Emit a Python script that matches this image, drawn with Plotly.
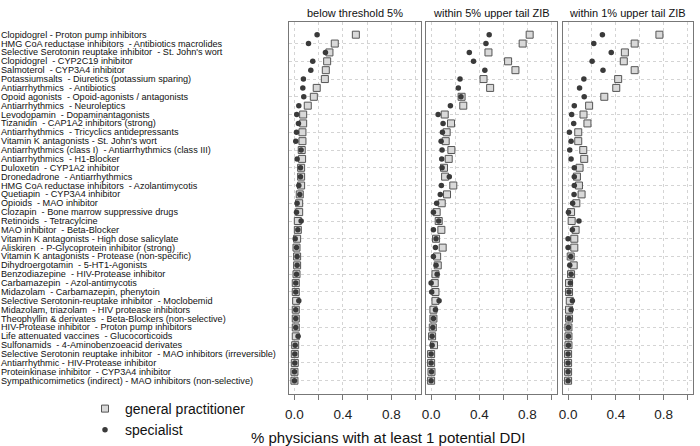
import plotly.graph_objects as go

NB = "\u00a0 "
labels = [
    "Clopidogrel - Proton pump inhibitors",
    "HMG CoA reductase inhibitors" + NB + "- Antibiotics macrolides",
    "Selective Serotonin reuptake inhibitor" + NB + "- St. John's wort",
    "Clopidogrel" + NB + "- CYP2C19 inhibitor",
    "Salmoterol" + NB + "- CYP3A4 inhibitor",
    "Potassiumsalts" + NB + "- Diuretics (potassium sparing)",
    "Antiarrhythmics" + NB + "- Antibiotics",
    "Opoid agonists" + NB + "- Opoid-agonists / antagonists",
    "Antiarrhythmics" + NB + "- Neuroleptics",
    "Levodopamin" + NB + "- Dopaminantagonists",
    "Tizanidin" + NB + "- CAP1A2 inhibitors (strong)",
    "Antiarrhythmics" + NB + "- Tricyclics antidepressants",
    "Vitamin K antagonists - St. John's wort",
    "Antiarrhythmics (class I)" + NB + "- Antiarrhythmics (class III)",
    "Antiarrhythmics" + NB + "- H1-Blocker",
    "Duloxetin" + NB + "- CYP1A2 inhibitor",
    "Dronedadrone" + NB + "- Antiarrhythmics",
    "HMG CoA reductase inhibitors" + NB + "- Azolantimycotis",
    "Quetiapin" + NB + "- CYP3A4 inhibitor",
    "Opioids" + NB + "- MAO inhibitor",
    "Clozapin" + NB + "- Bone marrow suppressive drugs",
    "Retinoids" + NB + "- Tetracylcine",
    "MAO inhibitor" + NB + "- Beta-Blocker",
    "Vitamin K antagonists - High dose salicylate",
    "Aliskiren" + NB + "- P-Glycoprotein inhibitor (strong)",
    "Vitamin K antagonists - Protease (non-specific)",
    "Dihydroergotamin" + NB + "- 5-HT1-Agonists",
    "Benzodiazepine" + NB + "- HIV-Protease inhibitor",
    "Carbamazepin" + NB + "- Azol-antimycotis",
    "Midazolam" + NB + "- Carbamazepin, phenytoin",
    "Selective Serotonin-reuptake inhibitor" + NB + "- Moclobemid",
    "Midazolam, triazolam" + NB + "- HIV protease inhibitors",
    "Theophyllin & derivates" + NB + "- Beta-Blockers (non-selective)",
    "HIV-Protease inhibitor" + NB + "- Proton pump inhibitors",
    "Life attenuated vaccines" + NB + "- Glucocorticoids",
    "Sulfonamids" + NB + "- 4-Aminobenzoeacid derivates",
    "Selective Serotonin reuptake inhibitor" + NB + "- MAO inhibitors (irreversible)",
    "Antiarrhythmic - HIV-Protease inhibitor",
    "Proteinkinase inhibitor" + NB + "- CYP3A4 inhibitor",
    "Sympathicomimetics (indirect) - MAO inhibitors (non-selective)",
]

panel_titles = ["below threshold 5%", "within 5% upper tail ZIB", "within 1% upper tail ZIB"]

gp_below = [0.507, 0.333, 0.289, 0.270, 0.259, 0.251, 0.184, 0.160, 0.110, 0.072,
            0.072, 0.066, 0.066, 0.060, 0.063, 0.055, 0.055, 0.055, 0.044, 0.039,
            0.039, 0.028, 0.028, 0.022, 0.017, 0.022, 0.022, 0.017, 0.011, 0.011,
            0.014, 0.011, 0.011, 0.011, 0.011, 0.006, 0.003, 0.003, 0.0, 0.0]
sp_below = [0.187, 0.116, 0.256, 0.151, 0.135, 0.074, 0.069, 0.077, 0.036, 0.019,
            0.033, 0.017, 0.011, 0.055, 0.022, 0.050, 0.050, 0.036, 0.044, 0.022,
            0.017, 0.055, 0.028, 0.006, 0.017, 0.022, 0.022, 0.017, 0.011, 0.011,
            0.036, 0.011, 0.011, 0.011, 0.030, 0.006, 0.003, 0.003, 0.0, 0.0]

gp_5 = [0.818, 0.760, 0.476, 0.639, 0.700, 0.435, 0.490, 0.253, 0.267, 0.113,
        0.165, 0.129, 0.121, 0.168, 0.146, 0.107, 0.116, 0.184, 0.132, 0.088,
        0.046, 0.063, 0.085, 0.041, 0.096, 0.050, 0.055, 0.036, 0.030, 0.036,
        0.036, 0.019, 0.019, 0.014, 0.008, 0.024, 0.0, 0.0, 0.003, 0.0]
sp_5 = [0.482, 0.455, 0.317, 0.352, 0.446, 0.240, 0.226, 0.248, 0.160, 0.058,
        0.099, 0.094, 0.083, 0.091, 0.088, 0.091, 0.151, 0.085, 0.076, 0.046,
        0.019, 0.063, 0.019, 0.041, 0.036, 0.019, 0.041, 0.050, 0.0, 0.005,
        0.066, 0.036, 0.019, 0.014, 0.008, 0.008, 0.0, 0.0, 0.003, 0.0]

gp_1 = [0.764, 0.557, 0.475, 0.466, 0.557, 0.419, 0.403, 0.303, 0.176, 0.129,
        0.162, 0.085, 0.085, 0.127, 0.135, 0.096, 0.074, 0.091, 0.113, 0.069,
        0.025, 0.030, 0.063, 0.052, 0.052, 0.022, 0.047, 0.025, 0.008, 0.008,
        0.014, 0.008, 0.008, 0.003, 0.003, 0.003, 0.0, 0.0, 0.0, 0.0]
sp_1 = [0.287, 0.215, 0.361, 0.201, 0.292, 0.132, 0.096, 0.135, 0.052, 0.030,
        0.047, 0.011, 0.025, 0.014, 0.025, 0.052, 0.052, 0.052, 0.050, 0.038,
        0.003, 0.091, 0.036, 0.0, 0.0, 0.022, 0.014, 0.025, 0.019, 0.008,
        0.036, 0.025, 0.008, 0.003, 0.003, 0.003, 0.0, 0.0, 0.0, 0.0]

x_tickvals = [0.0, 0.2, 0.4, 0.6, 0.8, 1.0]
x_ticktext = ["0.0", "", "0.4", "", "0.8", ""]

gp_series = [gp_below, gp_5, gp_1]
sp_series = [sp_below, sp_5, sp_1]

W, H = 700, 446
ML, MR, MT, MB = 289, 7, 22, 52
PW = W - ML - MR
PH = H - MT - MB

def px_x(p):
    return (p - ML) / PW

def px_y(p):
    return (H - MB - p) / PH

panel_px = [(289, 421), (425.7, 557), (562.7, 693)]
domains = [[px_x(a), px_x(b)] for a, b in panel_px]

FONT = "Liberation Sans, Arial, sans-serif"
fig = go.Figure()

for i in range(3):
    xa = "x" if i == 0 else f"x{i+1}"
    ya = "y" if i == 0 else f"y{i+1}"
    fig.add_trace(go.Scatter(
        x=gp_series[i], y=labels, xaxis=xa, yaxis=ya, mode="markers",
        name="general practitioner", legendgroup="gp", showlegend=(i == 0),
        marker=dict(symbol="square", size=7, color="#d9d9d9",
                    line=dict(color="#555555", width=1)),
    ))
for i in range(3):
    xa = "x" if i == 0 else f"x{i+1}"
    ya = "y" if i == 0 else f"y{i+1}"
    fig.add_trace(go.Scatter(
        x=sp_series[i], y=labels, xaxis=xa, yaxis=ya, mode="markers",
        name="specialist", legendgroup="sp", showlegend=(i == 0),
        marker=dict(symbol="circle", size=5.5, color="#3a3a3a",
                    line=dict(width=0)),
    ))

axis_common = dict(
    showline=True, linecolor="#777777", linewidth=1, mirror=True,
    showgrid=True, gridcolor="#d4d4d4", griddash="dot", gridwidth=1,
    zeroline=False, automargin=False,
)

layout = dict(
    width=W, height=H,
    margin=dict(l=ML, r=MR, t=MT, b=MB, autoexpand=False),
    plot_bgcolor="white", paper_bgcolor="white",
    font=dict(family=FONT, color="#111111"),
    showlegend=True,
    hovermode=False,
    legend=dict(x=px_x(85), y=px_y(393), xanchor="left", yanchor="top",
                font=dict(size=14, family=FONT, color="#111111"),
                bgcolor="rgba(0,0,0,0)", tracegroupgap=0, itemsizing="trace"),
)

for i in range(3):
    xk = "xaxis" if i == 0 else f"xaxis{i+1}"
    yk = "yaxis" if i == 0 else f"yaxis{i+1}"
    ya = "y" if i == 0 else f"y{i+1}"
    xa = "x" if i == 0 else f"x{i+1}"
    layout[xk] = dict(
        domain=domains[i], anchor=ya, range=[-0.045, 1.045],
        tickmode="array", tickvals=x_tickvals, ticktext=x_ticktext,
        ticks="outside", ticklen=5, tickcolor="#777777",
        ticklabelstandoff=3,
        tickfont=dict(size=13.5, family=FONT, color="#222222"),
        **axis_common,
    )
    ydict = dict(
        domain=[0, 1], anchor=xa, type="category",
        categoryorder="array", categoryarray=labels,
        range=[40.5, -1.43], showticklabels=False, ticks="",
        **axis_common,
    )
    if i > 0:
        ydict["matches"] = "y"
    layout[yk] = ydict

annotations = []
for lab in labels:
    annotations.append(dict(
        x=px_x(-1), y=lab, xref="paper", yref="y", text=lab,
        showarrow=False, xanchor="left", yanchor="middle",
        font=dict(size=9.15, family=FONT, color="#111111"),
    ))
for i, t in enumerate(panel_titles):
    a, b = panel_px[i]
    annotations.append(dict(
        x=px_x((a + b) / 2), y=px_y(13.3), xref="paper", yref="paper", text=t,
        showarrow=False, xanchor="center", yanchor="middle",
        font=dict(size=11, family=FONT, color="#111111"),
    ))
annotations.append(dict(
    x=px_x(388), y=px_y(437.5), xref="paper", yref="paper",
    text="% physicians with at least 1 potential DDI",
    showarrow=False, xanchor="center", yanchor="middle",
    font=dict(size=15, family=FONT, color="#111111"),
))
layout["annotations"] = annotations

fig.update_layout(**layout)
fig.write_html("out.html",
               config={"displayModeBar": False},
               post_script="document.body.style.margin='0px';document.body.style.padding='0px';")
